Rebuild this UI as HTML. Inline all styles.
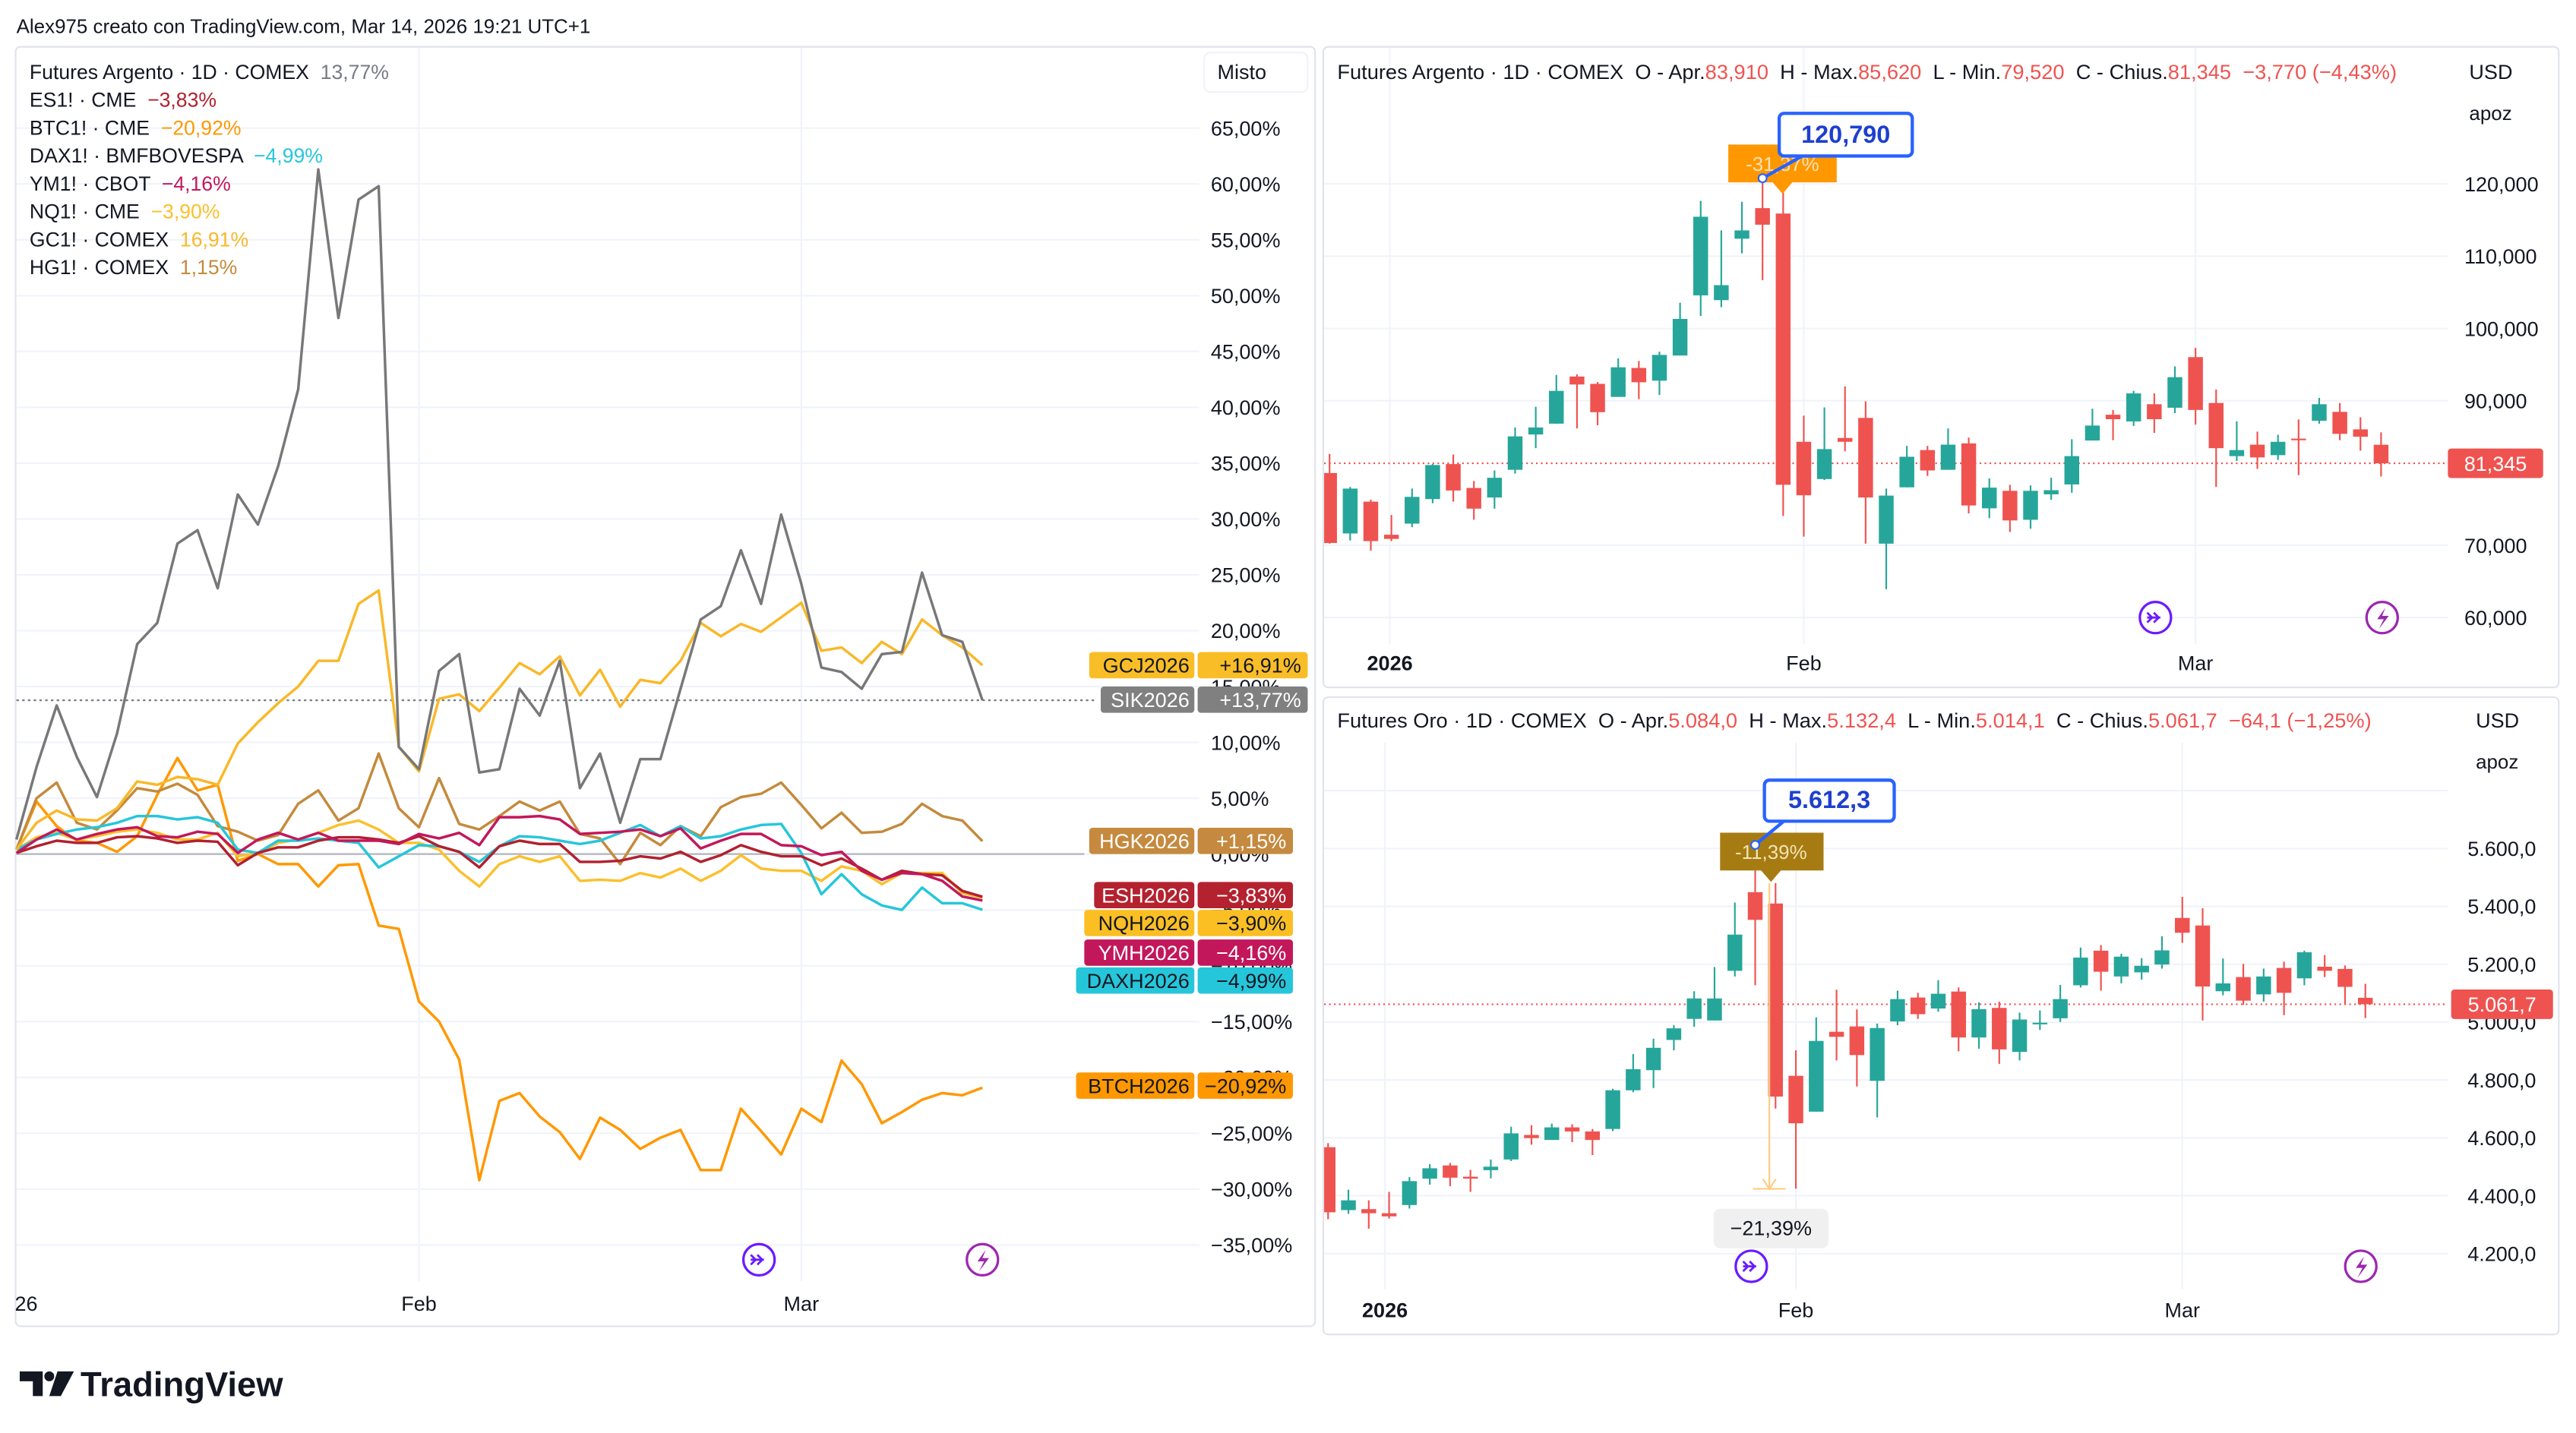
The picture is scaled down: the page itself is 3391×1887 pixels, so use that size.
<!DOCTYPE html>
<html><head><meta charset="utf-8"><style>
html,body{margin:0;padding:0;background:#fff;}
svg{display:block;font-family:"Liberation Sans",sans-serif;}
svg text{white-space:pre;}
</style></head><body>
<svg id="root" width="3391" height="1887" viewBox="0 0 1568 872.5" preserveAspectRatio="none" xmlns="http://www.w3.org/2000/svg">
<rect x="0" y="0" width="1568" height="872.5" fill="#fff"/>
<text x="10" y="20" font-size="12" fill="#131722">Alex975 creato con TradingView.com, Mar 14, 2026 19:21 UTC+1</text>
<rect x="9.5" y="28.5" width="791" height="779" fill="none" stroke="#e0e3eb" stroke-width="1" rx="3"/>
<rect x="805.5" y="28.5" width="752" height="390" fill="none" stroke="#e0e3eb" stroke-width="1" rx="3"/>
<rect x="805.5" y="424.5" width="752" height="388" fill="none" stroke="#e0e3eb" stroke-width="1" rx="3"/>
<g id="left"></g>
<g id="top"></g>
<g id="bot"></g>
<g>
<path d="M12 835 h14 v15 h-6 v-9 h-8z" fill="#131722"/>
<circle cx="30" cy="838" r="3" fill="#131722"/>
<path d="M35 835 h10 l-8 15 h-7z" fill="#131722"/>
<text x="49" y="850" font-size="21" font-weight="bold" fill="#131722">TradingView</text>
</g>
</svg>
<script>
// ===== Left comparison chart data =====
const leftTickLabels = ["65,00%","60,00%","55,00%","50,00%","45,00%","40,00%","35,00%","30,00%","25,00%","20,00%","15,00%","10,00%","5,00%","0,00%","−5,00%","−10,00%","−15,00%","−20,00%","−25,00%","−30,00%","−35,00%"];
const leftTickValues = [65,60,55,50,45,40,35,30,25,20,15,10,5,0,-5,-10,-15,-20,-25,-30,-35];
const siValues = [1.3,7.8,13.3,8.7,5.1,10.8,18.8,20.7,27.8,29.0,23.8,32.2,29.5,34.7,41.6,61.3,48.0,58.6,59.8,9.6,7.6,16.4,17.9,7.3,7.6,14.8,12.4,17.3,5.9,9.0,2.8,8.5,8.5,14.8,21.0,22.2,27.2,22.4,30.4,24.2,16.7,16.3,14.8,17.9,18.1,25.2,19.6,19.0,13.77];
const gcValues = [0.4,2.8,3.9,3.1,3.0,4.1,6.5,6.2,6.9,6.7,6.2,9.9,11.8,13.5,15.0,17.3,17.3,22.4,23.6,9.6,7.4,13.9,14.3,12.8,14.9,17.1,16.1,17.7,14.2,16.5,13.2,15.6,15.3,17.3,20.7,19.5,20.6,19.9,21.2,22.5,18.2,18.5,17.1,19.0,17.9,21.0,19.6,18.5,16.91];
const hgValues = [0.4,5.0,6.4,2.8,2.2,3.9,5.9,5.6,6.3,5.3,2.5,2.0,1.2,1.7,4.5,5.7,3.0,4.1,9.0,4.1,2.4,6.8,2.7,2.2,3.4,4.7,3.9,4.7,1.8,1.4,-0.9,1.9,0.8,2.5,1.6,4.2,5.1,5.4,6.4,4.4,2.3,3.7,1.9,2.0,2.7,4.5,3.4,3.0,1.15];
const btcValues = [0.4,4.7,2.5,1.2,1.0,0.2,1.6,5.3,8.6,5.7,6.2,-0.6,0,-0.9,-0.9,-2.9,-1.0,-0.9,-6.4,-6.7,-13.2,-15.0,-18.4,-29.2,-22.1,-21.4,-23.5,-24.9,-27.3,-23.6,-24.7,-26.4,-25.4,-24.7,-28.3,-28.3,-22.8,-24.8,-26.9,-22.8,-24.0,-18.5,-20.6,-24.1,-23.1,-22.0,-21.4,-21.6,-20.92];
const nqValues = [0.4,1.5,1.9,1.3,1.6,2.0,2.2,1.9,1.3,1.3,1.9,-0.2,0.1,1.0,1.3,1.9,2.6,3.0,2.2,1.0,1.0,0.4,-1.5,-2.9,-0.9,-0.2,-0.7,-0.2,-2.4,-2.3,-2.4,-1.7,-2.1,-1.3,-2.4,-1.5,-0.1,-1.3,-1.5,-1.5,-2.4,-1.1,-1.5,-2.7,-1.7,-1.7,-1.7,-3.5,-3.90];
const daxValues = [0.4,1.3,1.8,2.2,2.4,2.8,3.4,3.4,3.1,3.3,2.8,0.4,0.1,1.2,1.2,1.4,1.2,1.0,-1.2,-0.2,0.8,0.7,0.2,-0.7,0.7,1.6,1.5,1.2,0.9,1.2,1.9,2.6,1.6,2.5,1.4,1.6,2.2,2.6,2.7,0.1,-3.6,-1.8,-3.6,-4.6,-5.0,-3.0,-4.4,-4.4,-4.99];
const ymValues = [0.1,1.3,2.2,1.3,1.8,2.2,2.4,1.6,1.5,2.0,1.8,0.1,1.3,1.9,1.3,1.9,1.2,1.2,1.2,0.9,1.8,1.4,1.9,0.8,3.3,3.3,3.4,3.1,1.8,1.9,2.0,2.2,1.6,2.3,0.5,1.2,1.8,1.8,0.8,0.7,-0.1,0.2,-1.5,-2.3,-1.7,-1.8,-2.4,-3.8,-4.16];
const esValues = [0.1,0.7,1.2,1.0,1.0,1.5,1.6,1.4,1.0,1.2,1.1,-1.0,0.1,0.6,0.6,1.2,1.5,1.5,1.3,1.0,1.6,0.7,0.2,-1.2,0.7,1.2,0.9,0.9,-0.7,-0.7,-0.6,-0.2,-0.4,0.2,-0.7,-0.1,0.8,0.2,-0.2,-0.2,-1.0,-0.4,-1.3,-2.3,-1.5,-1.8,-1.9,-3.3,-3.83];
const leftDateLabels = ["26","Feb","Mar"];
const leftDateIdx = [0,20,39];

// ===== Silver candles (OHLC) =====
const agOpen  = [80000,71634,76039,71457,72999,76391,81236,77933,76611,80444,85333,86831,93350,92337,90531,94540,92778,96258,104583,103922,112424,116653,115904,84320,79166,84849,87624,70224,78021,83175,80444,84100,75114,77536,73528,77052,78417,84496,88064,87139,89518,89033,96037,89694,82338,83924,82470,84760,87227,88461,86038,83910];
const agHigh  = [82646,78065,76303,74188,77845,81236,82558,78902,80355,86302,89165,93570,93659,92601,95861,95509,96786,103570,117666,113569,117534,120790,120000,87932,89077,91985,89914,77845,83747,83747,86170,84893,79254,78373,78285,79342,84672,88901,88725,91368,91016,94760,97315,91544,87139,85730,85289,87403,90399,89694,87712,85620];
const agLow   = [70224,70664,69255,70576,72515,75818,76039,73528,75069,79915,83439,86831,86170,86611,90531,90223,90795,96258,101720,102953,110398,106697,74056,71193,79034,82998,70224,63925,78021,79607,80444,74409,73748,71854,72294,76303,77272,84496,84540,86522,85553,88284,86699,78065,81677,80576,81809,79695,86831,84540,83087,79520];
const agClose = [70312,77845,70576,70885,76699,81104,77580,75069,79342,85069,86302,91368,92249,88417,94628,92557,96346,101323,115463,105993,113569,114362,78373,76920,83307,84320,76611,76876,82250,80355,83924,75510,77977,73440,77536,77624,82338,86567,87448,91016,87448,93262,88725,83439,83175,82162,84320,84584,89518,85421,85025,81345];
const agTickValues = [120000,110000,100000,90000,70000,60000];
const agTickLabels = ["120,000","110,000","100,000","90,000","70,000","60,000"];

// ===== Gold candles (OHLC) =====
const auOpen  = [4567.7,4350.4,4353.7,4339.5,4367.8,4459.1,4504.7,4465.6,4488.4,4525.3,4610.1,4592.7,4636.2,4622.1,4630.7,4764.4,4833.9,4938.3,5011.1,5005.6,5177.3,5449.0,5409.8,4814.4,4690.5,4966.5,4985.0,4797.0,5002.4,5084.9,5046.9,5105.6,4946.9,5049.1,4897.0,4994.8,5013.2,5127.3,5246.8,5157.7,5171.9,5199.0,5359.9,5333.8,5106.7,5155.6,5095.8,5187.1,5151.2,5191.4,5183.8,5084.0];
const auHigh  = [4581.8,4421.0,4384.1,4413.4,4464.5,4509.0,4513.4,4489.5,4525.3,4638.4,4643.8,4649.2,4647.0,4630.7,4769.8,4889.4,4942.6,4989.3,5106.7,5190.3,5413.1,5612.3,5480.5,4902.4,5016.5,5112.1,5043.7,4994.8,5108.8,5101.2,5144.7,5119.7,5068.6,5070.8,5032.8,5040.4,5128.4,5257.7,5266.4,5236.0,5220.8,5296.8,5432.7,5393.5,5219.7,5201.2,5184.9,5208.8,5246.8,5231.6,5195.8,5132.4];
const auLow   = [4318.9,4337.4,4286.3,4321.1,4355.8,4438.4,4433.0,4413.4,4460.2,4519.9,4576.4,4592.7,4585.1,4540.6,4623.1,4757.9,4772.0,4902.4,4983.9,5005.6,5157.7,5127.3,4701.4,4424.3,4690.5,4867.6,4777.4,4670.9,4989.3,5011.1,5036.0,4899.1,4907.8,4855.7,4867.6,4973.0,5000.2,5119.7,5108.8,5133.8,5146.9,5184.9,5274.0,5005.6,5092.5,5060.0,5070.8,5024.1,5127.3,5155.6,5062.1,5014.1];
const auClose = [4342.8,4384.1,4339.5,4328.7,4450.4,4494.9,4462.3,4459.1,4500.4,4615.5,4599.2,4636.2,4622.1,4592.7,4764.4,4837.2,4911.1,4978.5,5081.7,5081.7,5302.3,5353.3,4742.7,4650.3,4935.0,4949.1,4886.1,4979.5,5079.5,5027.4,5098.0,4946.9,5044.7,4905.7,5008.9,4998.0,5079.5,5222.9,5174.0,5226.2,5194.7,5247.9,5308.8,5123.0,5133.8,5074.1,5157.7,5101.2,5241.4,5177.3,5121.9,5061.7];
const auTickValues = [5800,5600,5400,5200,5000,4800,4600,4400,4200];
const auTickLabels = ["5.800,0","5.600,0","5.400,0","5.200,0","5.000,0","4.800,0","4.600,0","4.400,0","4.200,0"];

const NS = "http://www.w3.org/2000/svg";
function mk(parent, tag, attrs, text){
  const e = document.createElementNS(NS, tag);
  for (const k in attrs) e.setAttribute(k, attrs[k]);
  if (text !== undefined) e.textContent = text;
  parent.appendChild(e);
  return e;
}
const GREEN = "#26a69a", RED = "#ef5350";

function icon(g,cx,cy,col,arrow){
  const c = mk(g,'circle',{cx:cx,cy:cy,r:9.5,fill:'#fff',stroke:col,'stroke-width':1.5});
  
  
  if(arrow){
    mk(g,'path',{d:`M${cx-5} ${cy-3} l3 3 l-3 3 M${cx-1} ${cy-3} l3 3 l-3 3 M${cx-5} ${cy} h8`,stroke:col,fill:'none','stroke-width':1.3});
  } else {
    mk(g,'path',{d:`M${cx+2} ${cy-6} l-5 7 h4 l-3 6 l6 -8 h-4z`,fill:col});
  }
}

// ===== LEFT CHART =====
(function(){
  const g = document.getElementById('left');
  const xL = i => 10 + i*12.25;
  const yL = v => 520 - v*6.8;
  leftTickValues.forEach((v,k)=>{
    const gl = mk(g,'line',{x1:10,x2:730,y1:yL(v),y2:yL(v),stroke:'#f0f3fa','stroke-width':1});
    
    
    const t = mk(g,'text',{x:737,y:yL(v)+4.5,'font-size':12.5,fill:'#131722'},leftTickLabels[k]);
    
    
  });
  leftDateIdx.forEach((idx,k)=>{
    if(k>0){
      const vl = mk(g,'line',{x1:xL(idx),x2:xL(idx),y1:29,y2:780,stroke:'#f0f3fa','stroke-width':1});
      
      
    }
    const t = mk(g,'text',{x:k===0?9:xL(idx),y:798,'font-size':12.5,fill:'#131722','text-anchor':k===0?'start':'middle'},leftDateLabels[k]);
    
    
  });
  const zl = mk(g,'line',{x1:10,x2:660,y1:yL(0),y2:yL(0),stroke:'#b2b5be','stroke-width':1});
  
  
  const lastSI = siValues[siValues.length-1];
  const dl = mk(g,'line',{x1:10,x2:668,y1:yL(lastSI),y2:yL(lastSI),stroke:'#787b86','stroke-width':1,'stroke-dasharray':'1.5 2'});
  
  
  const series = [
    ['btc',btcValues,'#ff9800'],['hg',hgValues,'#c48a3c'],['nq',nqValues,'#fbc02d'],
    ['dax',daxValues,'#26c6da'],['es',esValues,'#b2202f'],['ym',ymValues,'#c2185b'],
    ['gc',gcValues,'#f9b829'],['si',siValues,'#787878']];
  series.forEach(s=>{
    const d = s[1].map((v,i)=>(i?'L':'M')+xL(i).toFixed(2)+' '+yL(v).toFixed(2)).join(' ');
    const p = mk(g,'path',{d:d,fill:'none',stroke:s[2],'stroke-width':1.6,'stroke-linejoin':'round'});
    
    
  });
  const leg = [["Futures Argento · 1D · COMEX","13,77%","#787b86"],["ES1! · CME","−3,83%","#b2202f"],["BTC1! · CME","−20,92%","#ff9800"],["DAX1! · BMFBOVESPA","−4,99%","#26c6da"],["YM1! · CBOT","−4,16%","#c2185b"],["NQ1! · CME","−3,90%","#fbc02d"],["GC1! · COMEX","16,91%","#f9b829"],["HG1! · COMEX","1,15%","#c48a3c"]];
  leg.forEach((l,k)=>{
    const t = mk(g,'text',{x:18,y:48+k*17,'font-size':12.3,fill:'#131722'});
    
    
    mk(t,'tspan',{},l[0]+'  ');
    mk(t,'tspan',{fill:l[2]},l[1]);
  });
  const mb = mk(g,'rect',{x:733,y:32,width:63,height:24,rx:4,fill:'#fff',stroke:'#f0f3fa'});
  
  
  const mt = mk(g,'text',{x:741,y:48,'font-size':12.5,fill:'#131722'},'Misto');
  
  
  const pills = [["GCJ2026","+16,91%",'#f9bd27','#131722',663,405],["SIK2026","+13,77%",'#808080','#fff',670,426],["HGK2026","+1,15%",'#c58a3f','#fff',663,512],["ESH2026","−3,83%",'#b4222f','#fff',666,545],["NQH2026","−3,90%",'#fbbf24','#131722',660,562],["YMH2026","−4,16%",'#c2185b','#fff',660,580],["DAXH2026","−4,99%",'#26c6da','#131722',655,597],["BTCH2026","−20,92%",'#ff9800','#131722',655,661]];
  pills.forEach(p=>{
    const cy = p[5];
    const x0 = p[4], xe = (p[0]==='GCJ2026'||p[0]==='SIK2026')?796:787;
    const r1 = mk(g,'rect',{x:x0,y:cy-8,width:727-x0,height:16,rx:2,fill:p[2]});
    
    
    const r2 = mk(g,'rect',{x:729,y:cy-8,width:xe-729,height:16,rx:2,fill:p[2]});
    
    
    const t1 = mk(g,'text',{x:724,y:cy+4.5,'font-size':12.5,fill:p[3],'text-anchor':'end'},p[0]);
    
    
    const t2 = mk(g,'text',{x:xe-4,y:cy+4.5,'font-size':12.5,fill:p[3],'text-anchor':'end'},p[1]);
    
    
  });
  icon(g,462,767,'#6a1bff',true);
  icon(g,598,767,'#9c27b0',false);
})();

function candles(gid, O,H,L,C, xf, yf, clipY0, clipY1, bw){
  const g = document.getElementById(gid);
  const cid = gid+'-clip';
  const defs = mk(g,'defs',{});
  const cp = mk(defs,'clipPath',{id:cid});
  mk(cp,'rect',{x:806,y:clipY0,width:684,height:clipY1-clipY0});
  const cg = mk(g,'g',{'clip-path':`url(#${cid})`});
  O.forEach((o,i)=>{
    const up = C[i] >= o;
    const col = up ? GREEN : RED;
    const x = xf(i);
    const w = mk(cg,'line',{x1:x,x2:x,y1:yf(H[i]),y2:yf(L[i]),stroke:col,'stroke-width':1});
    
    
    const top = yf(Math.max(o,C[i])), bot = yf(Math.min(o,C[i]));
    const b = mk(cg,'rect',{x:x-bw/2,y:top,width:bw,height:Math.max(1,bot-top),fill:col});
    
    
  });
  return g;
}

// ===== TOP (SILVER) =====
(function(){
  const xT = i => 809.3 + i*12.55;
  const yT = p => 112 + (120000-p)*0.0044;
  const g = document.getElementById('top');
  agTickValues.forEach((v,k)=>{
    const gl = mk(g,'line',{x1:806,x2:1490,y1:yT(v),y2:yT(v),stroke:'#f0f3fa'});
    
    
    const t = mk(g,'text',{x:1500,y:yT(v)+4.5,'font-size':12.5,fill:'#131722'},agTickLabels[k]);
    
    
  });
  [[3,'2026'],[23,'Feb'],[42,'Mar']].forEach(d=>{
    const xx = d[0]===3?846:xT(d[0]);
    const vl = mk(g,'line',{x1:xx,x2:xx,y1:29,y2:392,stroke:'#f0f3fa'});
    
    
    const t = mk(g,'text',{x:xx,y:408,'font-size':12.5,fill:'#131722','text-anchor':'middle','font-weight':d[0]===3?'bold':'normal'},d[1]);
    
    
  });
  const last = agClose[agClose.length-1];
  const pl = mk(g,'line',{x1:806,x2:1490,y1:yT(last),y2:yT(last),stroke:RED,'stroke-dasharray':'1 2'});
  
  
  candles('top',agOpen,agHigh,agLow,agClose,xT,yT,29,392,9);
  const lr = mk(g,'rect',{x:1490,y:yT(last)-9,width:58,height:18,rx:2,fill:RED});
  
  
  const lt = mk(g,'text',{x:1519,y:yT(last)+4.5,'font-size':12.5,fill:'#fff','text-anchor':'middle'},'81,345');
  
  
  const h = mk(g,'text',{x:814,y:48,'font-size':12.6,fill:'#131722'});
  
  
  [['Futures Argento · 1D · COMEX  O - Apr.','#131722'],['83,910','#ef5350'],['  H - Max.','#131722'],['85,620','#ef5350'],['  L - Min.','#131722'],['79,520','#ef5350'],['  C - Chius.','#131722'],['81,345  −3,770 (−4,43%)','#ef5350']].forEach(s=>mk(h,'tspan',{fill:s[1]},s[0]));
  const u = mk(g,'text',{x:1503,y:48,'font-size':12.5,fill:'#131722'},'USD');
  
  
  const a = mk(g,'text',{x:1503,y:73,'font-size':12,fill:'#131722'},'apoz');
  
  
  const ob = mk(g,'path',{d:'M1052 88 h66 v23 h-27 l-6 7 l-6 -7 h-27z',fill:'#ff9800'});
  
  
  const ot = mk(g,'text',{x:1085,y:104,'font-size':12,fill:'#fde1b5','text-anchor':'middle'},'-31,37%');
  
  
  const hx = xT(21), hy = yT(agHigh[21]);
  mk(g,'path',{d:`M${hx} ${hy} L1097 95 L1105 95`,stroke:'#2962ff','stroke-width':2,fill:'none'});
  mk(g,'circle',{cx:hx,cy:hy,r:2.5,fill:'#fff',stroke:'#2962ff'});
  const bb = mk(g,'rect',{x:1083,y:69,width:81,height:26,rx:3,fill:'#fff',stroke:'#2962ff','stroke-width':2});
  
  
  const bt = mk(g,'text',{x:1123.5,y:87,'font-size':15,'font-weight':'bold',fill:'#1e3fcf','text-anchor':'middle'},'120,790');
  
  
  icon(g,1312,376,'#6a1bff',true);
  icon(g,1450,376,'#9c27b0',false);
})();

// ===== BOTTOM (GOLD) =====
(function(){
  const xB = i => 808.4 + i*12.38;
  const yB = p => 516.6 + (5600-p)*0.1762;
  const g = document.getElementById('bot');
  auTickValues.forEach((v,k)=>{
    const gl = mk(g,'line',{x1:806,x2:1490,y1:yB(v),y2:yB(v),stroke:'#f0f3fa'});
    
    
    if(v===5800) return;
    const t = mk(g,'text',{x:1502,y:yB(v)+4.5,'font-size':12.5,fill:'#131722'},auTickLabels[k]);
    
    
  });
  [[3,'2026'],[23,'Feb'],[42,'Mar']].forEach(d=>{
    const xx = d[0]===3?843:xB(d[0]);
    const vl = mk(g,'line',{x1:xx,x2:xx,y1:452,y2:785,stroke:'#f0f3fa'});
    
    
    const t = mk(g,'text',{x:xx,y:802,'font-size':12.5,fill:'#131722','text-anchor':'middle','font-weight':d[0]===3?'bold':'normal'},d[1]);
    
    
  });
  const last = auClose[auClose.length-1];
  const pl = mk(g,'line',{x1:806,x2:1490,y1:yB(last),y2:yB(last),stroke:RED,'stroke-dasharray':'1 2'});
  
  
  candles('bot',auOpen,auHigh,auLow,auClose,xB,yB,452,785,9);
  const lr = mk(g,'rect',{x:1492,y:yB(last)-9,width:62,height:18,rx:2,fill:RED});
  
  
  const lt = mk(g,'text',{x:1523,y:yB(last)+4.5,'font-size':12.5,fill:'#fff','text-anchor':'middle'},'5.061,7');
  
  
  const h = mk(g,'text',{x:814,y:443,'font-size':12.6,fill:'#131722'});
  
  
  [['Futures Oro · 1D · COMEX  O - Apr.','#131722'],['5.084,0','#ef5350'],['  H - Max.','#131722'],['5.132,4','#ef5350'],['  L - Min.','#131722'],['5.014,1','#ef5350'],['  C - Chius.','#131722'],['5.061,7  −64,1 (−1,25%)','#ef5350']].forEach(s=>mk(h,'tspan',{fill:s[1]},s[0]));
  const u = mk(g,'text',{x:1507,y:443,'font-size':12.5,fill:'#131722'},'USD');
  
  
  const a = mk(g,'text',{x:1507,y:468,'font-size':12,fill:'#131722'},'apoz');
  
  
  const ax = 1077;
  const ar = mk(g,'path',{d:`M${ax} ${yB(5480)} V${yB(4424)} M${ax-4} ${yB(4424)-6} L${ax} ${yB(4424)} L${ax+4} ${yB(4424)-6} M${ax-10} ${yB(4424)} H${ax+10}`,stroke:'#ffcc80','stroke-width':1,fill:'none'});
  
  
  const mb = mk(g,'rect',{x:1043,y:736,width:70,height:24,rx:4,fill:'#f0f0f0'});
  
  
  const mt = mk(g,'text',{x:1078,y:752,'font-size':12.5,fill:'#131722','text-anchor':'middle'},'−21,39%');
  
  
  const ob = mk(g,'path',{d:'M1047 507 h63 v23 h-26 l-6 7 l-6 -7 h-25z',fill:'#a67c12'});
  
  
  const ot = mk(g,'text',{x:1078,y:523,'font-size':12,fill:'#f3e3b5','text-anchor':'middle'},'-11,39%');
  
  
  const hx = xB(21), hy = yB(auHigh[21]);
  mk(g,'path',{d:`M${hx} ${hy} L1087 499 L1095 499`,stroke:'#2962ff','stroke-width':2,fill:'none'});
  mk(g,'circle',{cx:hx,cy:hy,r:2.5,fill:'#fff',stroke:'#2962ff'});
  const bb = mk(g,'rect',{x:1074,y:475,width:79,height:25,rx:3,fill:'#fff',stroke:'#2962ff','stroke-width':2});
  
  
  const bt = mk(g,'text',{x:1113.5,y:492,'font-size':15,'font-weight':'bold',fill:'#1e3fcf','text-anchor':'middle'},'5.612,3');
  
  
  icon(g,1066,771,'#6a1bff',true);
  icon(g,1437,771,'#9c27b0',false);
})();
</script>
</body></html>
